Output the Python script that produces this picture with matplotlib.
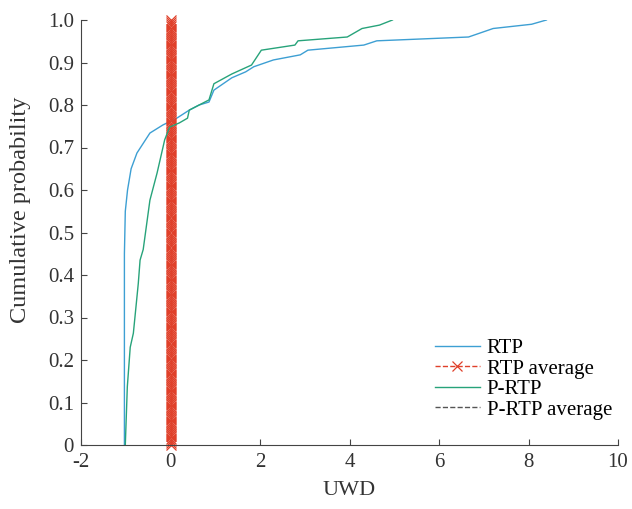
import numpy as np
import matplotlib
matplotlib.use("Agg")
import matplotlib.pyplot as plt

rtp_x = [-1.03, -1.03, -1.01, -0.96, -0.88, -0.75, -0.46, -0.17, 0.14, 0.42, 0.64, 0.86,
         0.97, 1.37, 1.68, 1.86, 2.30, 2.90, 3.07, 4.32, 4.61, 6.66, 7.21, 8.07, 8.40]
rtp_y = [0.0, 0.45, 0.55, 0.60, 0.65, 0.687, 0.734, 0.753, 0.769, 0.788, 0.80, 0.807,
         0.835, 0.864, 0.878, 0.89, 0.906, 0.918, 0.929, 0.941, 0.951, 0.96, 0.98, 0.99, 1.0]

# P-RTP empirical CDF
prtp_x = [-1.01, -0.965, -0.90, -0.83, -0.72, -0.68, -0.61, -0.46, -0.30, -0.13, -0.02, 0.20,
          0.38, 0.42, 0.64, 0.86, 0.97, 1.37, 1.81, 2.03, 2.78, 2.85, 3.95, 4.28, 4.67, 4.96]
prtp_y = [0.0, 0.137, 0.23, 0.263, 0.38, 0.435, 0.46, 0.576, 0.64, 0.718, 0.748, 0.758,
          0.769, 0.788, 0.80, 0.812, 0.85, 0.873, 0.894, 0.929, 0.941, 0.951, 0.96, 0.98, 0.988, 1.0]

rtp_avg = 0.0
prtp_avg = 0.0

plt.rcParams["font.family"] = ["Liberation Serif", "DejaVu Serif"]
plt.rcParams["axes.unicode_minus"] = False

fig = plt.figure(figsize=(6.32, 5.09), dpi=100)
# axes: x from px 81 to 618, y from px 445 (0) to 20 (1.0)
ax = fig.add_axes([81 / 632, 1 - 445 / 509, 537 / 632, 425 / 509])

ax.plot(rtp_x, rtp_y, color="#3d9fd3", lw=1.0, label="RTP")
avg_y = np.linspace(0, 1, 200)
ax.plot(np.full_like(avg_y, rtp_avg), avg_y, color="#e0402a", lw=1.0, ls="--",
        marker="x", markersize=7, markeredgewidth=0.9, label="RTP average", clip_on=False)
ax.plot(prtp_x, prtp_y, color="#27a37a", lw=1.0, label="P-RTP")
ax.plot([prtp_avg, prtp_avg], [0, 1], color="#555555", lw=1.0, ls="--",
        label="P-RTP average", zorder=1)

ax.set_xlim(-2, 10)
ax.set_ylim(0, 1)
ax.set_xticks(np.arange(-2, 11, 2))
ax.set_yticks(np.arange(0, 1.01, 0.1))
ax.set_yticklabels(["0"] + [f"{v:.1f}" for v in np.arange(0.1, 1.01, 0.1)])

for s in ["top", "right"]:
    ax.spines[s].set_visible(False)
for s in ["left", "bottom"]:
    ax.spines[s].set_color("#444444")
ax.tick_params(direction="in", length=4, color="#444444", labelsize=15,
               labelcolor="#333333")
ax.tick_params(axis="x", pad=6)
ax.tick_params(axis="y", pad=5)

ax.set_xlabel("UWD", fontsize=16, color="#333333", labelpad=6)
ax.set_ylabel("Cumulative probability", fontsize=17.5, color="#333333")
ax.yaxis.set_label_coords(-0.093, 0.553)

ax.legend(loc="lower right", bbox_to_anchor=(1.016, 0.025), frameon=False, fontsize=15,
          handlelength=2.2, handletextpad=0.3, labelspacing=0.05, borderpad=0.2)

fig.savefig("out.png", dpi=100)
